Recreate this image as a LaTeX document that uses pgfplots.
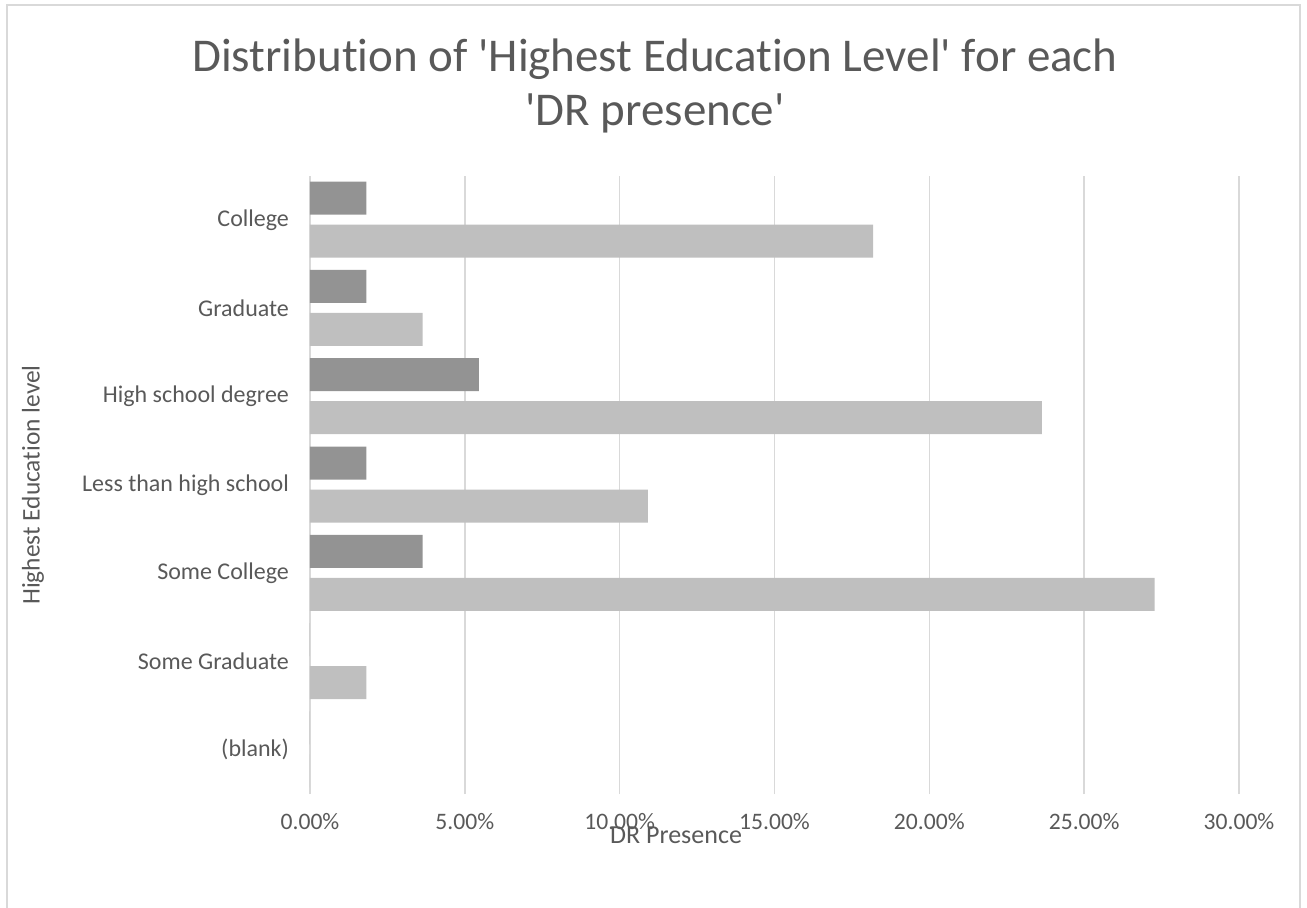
\documentclass[border=0pt]{standalone}
\usepackage{fontspec}
\setmainfont[Ligatures=NoCommon]{Carlito}
\usepackage{pgfplots}
\pgfplotsset{compat=1.18}
\definecolor{darkbar}{HTML}{939393}
\definecolor{lightbar}{HTML}{BFBFBF}
\definecolor{gridc}{HTML}{D9D9D9}
\definecolor{txt}{HTML}{595959}
\begin{document}
\begin{tikzpicture}
\begin{axis}[
  scale only axis,
  width=464.5pt, height=309pt,
  xbar, bar width=16.5pt,
  xmin=0, xmax=30, ymin=-0.5, ymax=6.5,
  axis line style={draw=none},
  xmajorgrids, major grid style={draw=gridc, line width=0.8pt},
  xtick={0,5,10,15,20,25,30},
  xticklabels={0.00\%,5.00\%,10.00\%,15.00\%,20.00\%,25.00\%,30.00\%},
  ytick={0,1,2,3,4,5,6},
  yticklabels={(blank),Some Graduate,Some College,Less than high school,High school degree,Graduate,College},
  major tick length=0pt,
  tick label style={text=txt},
  xticklabel style={font=\fontsize{11.8}{13}\selectfont, yshift=-6pt},
  yticklabel style={font=\fontsize{12}{13}\selectfont, xshift=-7pt},
  clip=false,
]
\addplot[fill=darkbar, draw=none, bar shift=11pt] coordinates {
  (1.818,6) (1.818,5) (5.455,4) (1.818,3) (3.636,2) (0,1) (0,0)
};
\addplot[fill=lightbar, draw=none, bar shift=-10.5pt] coordinates {
  (18.182,6) (3.636,5) (23.636,4) (10.909,3) (27.273,2) (1.818,1) (0,0)
};
\node[font=\fontsize{23.5}{25}\selectfont, text=txt, anchor=base] at (rel axis cs:0.3714,1.1683) {Distribution of \textquotesingle Highest Education Level\textquotesingle{} for each};
\node[font=\fontsize{23.5}{25}\selectfont, text=txt, anchor=base] at (rel axis cs:0.3714,1.0825) {\textquotesingle DR presence\textquotesingle};
\node[font=\fontsize{12.7}{14}\selectfont, text=txt, rotate=90] at (rel axis cs:-0.2982,0.5) {Highest Education level};
\node[font=\fontsize{13}{14}\selectfont, text=txt] at (rel axis cs:0.394,-0.0663) {DR Presence};
\end{axis}
\pgfresetboundingbox
\path[use as bounding box] (-155pt,-56.5pt) rectangle (498.5pt,397pt);
\draw[gridc, line width=0.8pt] (-151.5pt,-60pt) -- (-151.5pt,394.5pt) -- (495pt,394.5pt) -- (495pt,-60pt);
\end{tikzpicture}
\end{document}
